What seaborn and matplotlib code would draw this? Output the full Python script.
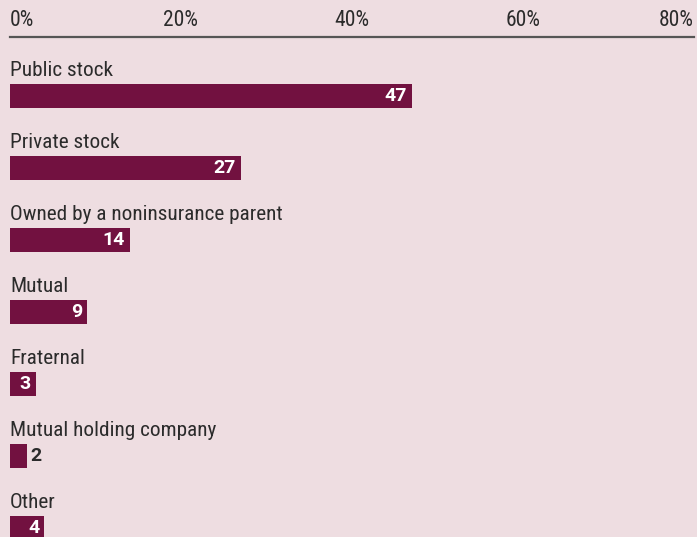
import matplotlib
matplotlib.use("Agg")
import matplotlib.pyplot as plt
import seaborn as sns
import pandas as pd

# Ownership structure of companies, share in percent
categories = [
    "Public stock",
    "Private stock",
    "Owned by a noninsurance parent",
    "Mutual",
    "Fraternal",
    "Mutual holding company",
    "Other",
]
shares = [47, 27, 14, 9, 3, 2, 4]
tick_values = [0, 20, 40, 60, 80]
tick_labels = ["0%", "20%", "40%", "60%", "80%"]

BG = "#EEDDE1"
BAR = "#721140"
TEXT = "#2b2b2b"
AXIS = "#555555"

sns.set_theme(style="white")
plt.rcParams["font.family"] = ["Roboto Condensed", "DejaVu Sans"]

df = pd.DataFrame({"type": categories, "share": shares})

W, H = 697, 537
fig = plt.figure(figsize=(W / 100, H / 100), dpi=100, facecolor=BG)
ax = fig.add_axes([10 / W, 0, 684 / W, 1])
ax.set_facecolor(BG)

sns.barplot(data=df, x="share", y="type", orient="h", color=BAR,
            width=0.33, saturation=1, linewidth=0, ax=ax)

ax.set_xlim(0, 80)
# rows are 72 px apart; first bar centred 96 px below the top edge
ax.set_ylim((H - 96) / 72, -96 / 72)

for s in ["left", "right", "bottom"]:
    ax.spines[s].set_visible(False)
ax.spines["top"].set_position(("data", (37 - 96) / 72))
ax.spines["top"].set_color(AXIS)
ax.spines["top"].set_linewidth(1.6)
ax.spines["top"].set_bounds(0, 80)

ax.xaxis.set_ticks_position("top")
ax.set_xticks(tick_values)
ax.set_xticklabels(tick_labels, fontsize=15.5, color=TEXT)
ax.tick_params(axis="x", length=0, pad=4)
ax.set_yticks([])
ax.set_xlabel("")
ax.set_ylabel("")
xt = ax.get_xticklabels()
xt[0].set_ha("left")
xt[-1].set_ha("right")

bar_half = 0.33 / 2
for i, (cat, val) in enumerate(zip(categories, shares)):
    ax.text(0, i - bar_half - 8 / 72, cat, fontsize=15.3, color=TEXT,
            ha="left", va="baseline")
    if val >= 3:
        ax.annotate(str(val), xy=(val, i), xytext=(-3.6, 0),
                    textcoords="offset points", ha="right", va="center",
                    fontsize=14, fontweight="bold", color="white",
                    family="Roboto")
    else:
        ax.annotate(str(val), xy=(val, i), xytext=(2.4, 0),
                    textcoords="offset points", ha="left", va="center",
                    fontsize=14, fontweight="bold", color=TEXT,
                    family="Roboto")

fig.savefig("out.png", dpi=100, facecolor=BG)
